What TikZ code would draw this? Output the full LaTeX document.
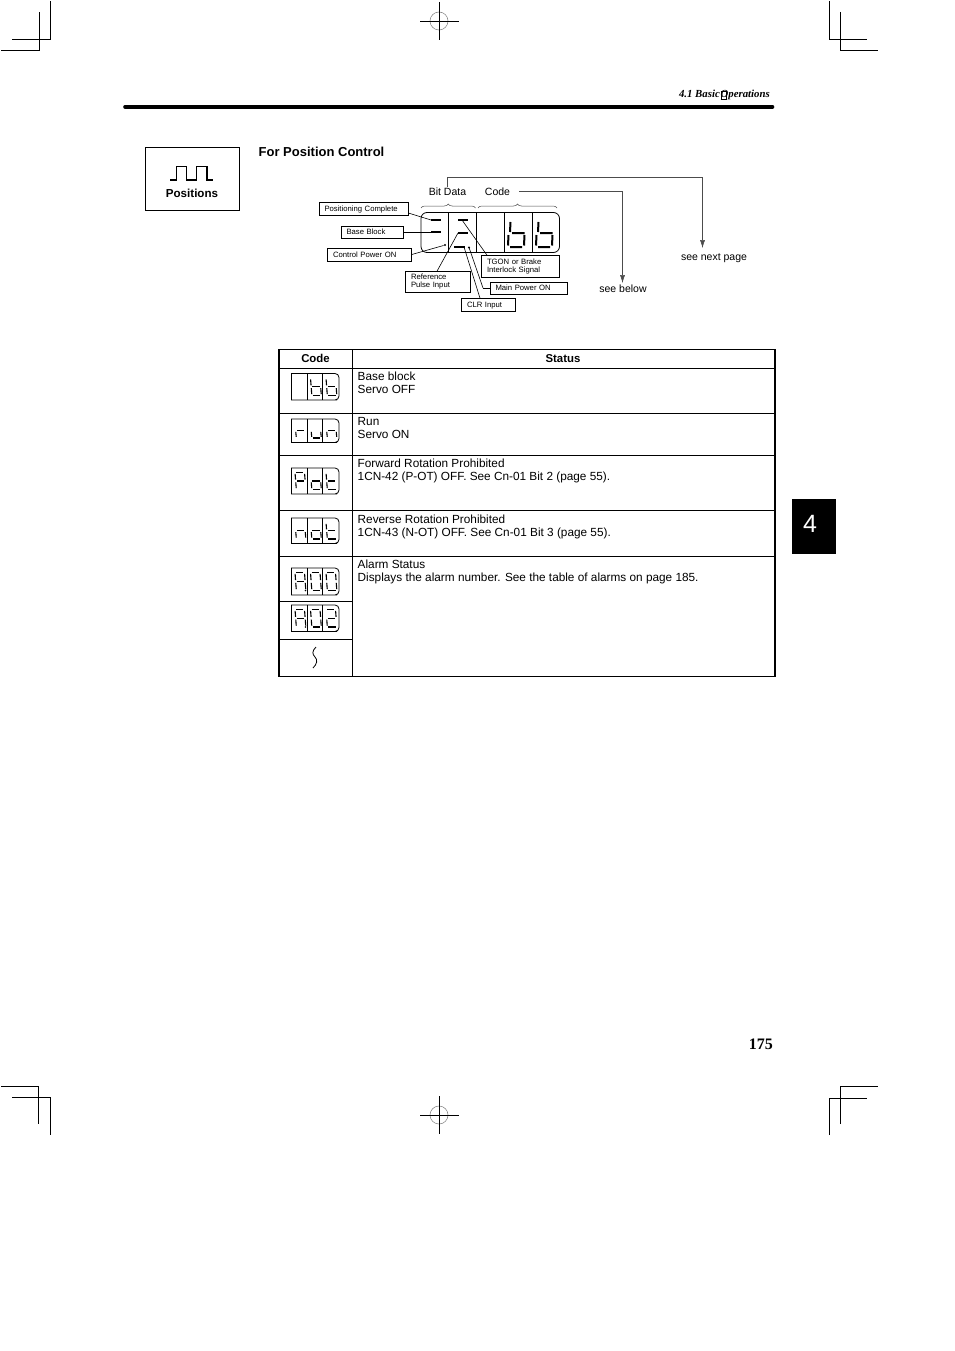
\documentclass[tikz,border=0pt]{standalone}
\usepackage{fontspec}
\setmainfont{Liberation Sans}
\newfontfamily\pageserif{Liberation Serif}
\usetikzlibrary{arrows.meta,positioning,decorations.pathreplacing}
\tikzset{>={Latex[width=5pt,length=8pt]}}
\tikzset{
	cropline/.style = {line width = 0.8pt},
	regcircle/.style = {line width = 0.6pt, black!45},
	rulebar/.style = {line width = 3.6pt, line cap = round},
	tablerule/.style = {line width = 0.7pt},
	tableframe/.style = {line width = 1.3pt},
	bodytext/.style = {inner sep = 0pt, align = left, anchor = north west, font = \fontsize{11.8}{12.8}\selectfont},
	headtext/.style = {inner sep = 0pt, font = \fontsize{11.4}{13}\selectfont\bfseries},
	smalltext/.style = {inner sep = 0pt, font = \fontsize{10.5}{12}\selectfont},
	labelbox/.style 2 args = {draw, line width = 0.6pt, align = left, inner xsep = 5.5pt, inner ysep = 0pt,
		text width = #1pt - 11pt, minimum height = #2pt, font = \fontsize{7.7}{8}\selectfont},
	oneline/.style = {text depth = 0pt},
	leader/.style = {line width = 0.5pt, black!70},
	pointer/.style = {line width = 0.6pt},
	segline/.style = {line width = 1.1pt},
	bigsegline/.style = {line width = 2pt},
	bitmark/.style = {line width = 2pt},
	dispframe/.style = {line width = 0.8pt},
}
\newcommand{\sega}{\draw[segline] (.12,0) -- (.88,0);}
\newcommand{\segb}{\draw[segline] (1,.08) -- (1,.42);}
\newcommand{\segc}{\draw[segline] (1,.58) -- (1,.92);}
\newcommand{\segd}{\draw[segline] (.12,1) -- (.88,1);}
\newcommand{\sege}{\draw[segline] (0,.58) -- (0,.92);}
\newcommand{\segf}{\draw[segline] (0,.08) -- (0,.42);}
\newcommand{\segg}{\draw[segline] (.12,.5) -- (.88,.5);}
\newcommand{\segdigit}[5]{
	\begin{scope}[shift = {(#1,#2)}, xscale = #3, yscale = #4, xslant = -0.14]
		\foreach \bar in {#5} {\csname seg\bar\endcsname}
	\end{scope}
}
\newcommand{\segrow}[5]{
	\draw[dispframe] (291.5,#1) -- (333,#1) [rounded corners = 4pt] -- (339,#1) -- (339,#2) -- (333,#2) [sharp corners] -- (291.5,#2) -- cycle;
	\draw[dispframe] (307.5,#1) -- (307.5,#2) (322.5,#1) -- (322.5,#2);
	\segdigit{295}{#1 + 4.5}{9.5}{#2 - #1 - 9}{#3}
	\segdigit{310.5}{#1 + 4.5}{9.5}{#2 - #1 - 9}{#4}
	\segdigit{326}{#1 + 4.5}{9.5}{#2 - #1 - 9}{#5}
}
\begin{document}
\begin{tikzpicture}[x = 1pt, y = -1pt]
	\useasboundingbox (0,0) rectangle (954,1351);

	\draw[cropline] (1,50) -| (39.5,12) (12,39.5) -| (50.5,1);
	\draw[cropline] (1,1086) -| (38.5,1124) (12,1097.5) -| (50.5,1135);
	\draw[cropline] (829.5,1) |- (867,39.5) (840.5,12) |- (878,50);
	\draw[cropline] (840.5,1124) |- (878,1086) (829.5,1135) |- (867,1098);
	\foreach \regy in {21,1115} {
		\draw[regcircle] (439,\regy) circle (9);
		\draw[cropline] (420,\regy) -- (458.5,\regy) (439,\regy - 19) -- (439,\regy + 19);
	}

	\draw[rulebar] (125,106.8) -- (772.5,106.8);
	\node (section) [inner sep = 0pt, anchor = east] at (770,95) {\pageserif\fontsize{10.8}{12}\selectfont\bfseries\itshape
		4.1 Basic\kern.8pt\rlap{\raisebox{-1pt}{\fboxsep=0pt\fboxrule=.25pt\fbox{\rule{0pt}{7.5pt}\hspace{5.5pt}}}}Operations};

	\node (posbox) [draw, line width = 0.7pt, minimum width = 94pt, minimum height = 63pt] at (192,179) {};
	\draw[line width = 1.3pt] (170,180) -- (176.7,180) -- (176.7,166.5) -- (186.7,166.5) -- (186.7,180) -- (196.7,180)
		-- (196.7,166.5) -- (207,166.5) -- (207,180) -- (213,180);
	\node (positions) [inner sep = 0pt, font = \fontsize{11.6}{13}\selectfont\bfseries] at (192,193.5) {Positions};
	\node (title) [inner sep = 0pt, anchor = west, font = \fontsize{13}{15}\selectfont\bfseries] at (258.5,151.5) {For Position Control};

	\node (bitdata) [smalltext] at (447.5,191.5) {Bit Data};
	\node (code) [smalltext] at (497.5,191.5) {Code};
	\node (seenext) [smalltext] at (714,258.5) {see next page};
	\node (seebelow) [smalltext] at (623,288.5) {see below};
	\coordinate (nextturn) at (702.5,177);
	\coordinate (nextend) at (702.5,248);
	\coordinate (belowend) at (622.5,283);
	\draw[leader, ->] (bitdata.north) |- (nextturn) -- (nextend);
	\draw[leader, ->] ([xshift = 9pt]code.east) -| (belowend);

	\draw[leader, decorate, decoration = {brace, amplitude = 4pt}] (421,208) -- (475.5,208);
	\draw[leader, decorate, decoration = {brace, amplitude = 4pt}] (478,208) -- (557,208);

	\draw[dispframe, rounded corners = 6pt] (421,212.5) rectangle (559.5,252.5);
	\draw[dispframe] (448,212.5) -- (448,252.5) (476,212.5) -- (476,252.5) (504,212.5) -- (504,252.5) (532,212.5) -- (532,252.5);
	\foreach \digx in {508,536} {
		\draw[bigsegline] (\digx + 2.5,222) -- (\digx + 2,232) (\digx + 4,233) -- (\digx + 16.5,233) (\digx + 16.5,235) -- (\digx + 16,245.5)
			(\digx + 2,247) -- (\digx + 14,247) (\digx + .5,235) -- (\digx,245.5);
	}
	\coordinate (poscmark) at (431,220);
	\coordinate (bbmark) at (431,232);
	\coordinate (ctrlmark) at (445,245);
	\coordinate (refmark) at (458,233);
	\coordinate (tgonmark) at (462,220);
	\coordinate (clrmark) at (464,247);
	\coordinate (mainmark) at (469,247.5);
	\draw[bitmark] (poscmark) -- ++(10,0) (bbmark) -- ++(10,0) (458,220) -- (468,220) (refmark) -- ++(10,0) (454,247) -- (465,247);
	\fill (ctrlmark) circle (1.2) (mainmark) circle (1.2);

	\node (posc) [labelbox = {89}{13}, oneline] at (363.5,209) {Positioning Complete};
	\node (bblock) [labelbox = {62}{12}, oneline] at (372,232) {Base Block};
	\node (ctrlpower) [labelbox = {84}{13}, oneline] at (369.5,254.5) {Control Power ON};
	\node (refpulse) [labelbox = {65}{21}] at (438,282) {Reference\\Pulse Input};
	\node (tgon) [labelbox = {78}{22}] at (520.5,266.5) {TGON or Brake\\Interlock Signal};
	\node (mainpower) [labelbox = {77}{12}, oneline] at (528.5,288) {Main Power ON};
	\node (clr) [labelbox = {54}{13}, oneline] at (488.5,305) {CLR Input};

	\path[pointer]
	([yshift = -4pt]posc.east) edge (poscmark)
	(bblock.east) edge (bbmark)
	(ctrlpower.east) edge ([xshift = -1.5pt, yshift = -.5pt]ctrlmark)
	([xshift = -1pt]refpulse.north) edge (refmark)
	(tgonmark) edge ([xshift = -33.5pt]tgon.north)
	(clrmark) edge ([xshift = -8.5pt]clr.north)
	(mainmark) edge (483,288)
	(483,288) edge (mainpower.west);

	\draw[tableframe] (279,349.5) rectangle (775,676.5);
	\draw[tableframe] (279,368.3) -- (775,368.3);
	\draw[tablerule] (352.5,349.5) -- (352.5,676.5);
	\draw[tablerule] (279,413.5) -- (775,413.5) (279,455.5) -- (775,455.5) (279,510.5) -- (775,510.5) (279,556.5) -- (775,556.5);
	\draw[tablerule] (279,601.5) -- (352.5,601.5) (279,639.5) -- (352.5,639.5);

	\node (codehead) [headtext] at (315.5,358.5) {Code};
	\node (statushead) [headtext] at (563,358.5) {Status};
	\node (status1) [bodytext] at (357.5,372) {Base block\\Servo OFF};
	\node (status2) [bodytext] at (357.5,417) {Run\\Servo ON};
	\node (status3) [bodytext] at (357.5,459) {Forward Rotation Prohibited\\1CN-42 (P-OT) OFF. See Cn-01 Bit 2 (page 55).};
	\node (status4) [bodytext] at (357.5,514.5) {Reverse Rotation Prohibited\\1CN-43 (N-OT) OFF. See Cn-01 Bit 3 (page 55).};
	\node (status5) [bodytext] at (357.5,560) {Alarm Status\\Displays the alarm number. See the table of alarms on page 185.};

	\segrow{373.5}{400}{}{f,g,c,d,e}{f,g,c,d,e}
	\segrow{419}{442.5}{e,g}{e,d,c}{e,g,c}
	\segrow{468}{494}{a,b,f,g,e}{g,c,d,e}{f,g,e,d}
	\segrow{518}{543.5}{e,g,c}{g,c,d,e}{f,g,e,d}
	\segrow{568}{595}{a,b,c,e,f,g}{a,b,c,d,e,f}{a,b,c,d,e,f}
	\segrow{605}{631.5}{a,b,c,e,f,g}{a,b,c,d,e,f}{a,b,g,e,d}
	\fill (305.5,590.5) circle (.8) (305.5,627) circle (.8);
	\draw[line width = 0.8pt] (316,647) .. controls (312,651) and (312,654) .. (315,657) .. controls (318,660) and (317,664) .. (313,668);

	\node (chaptertab) [fill = black, minimum width = 44pt, minimum height = 55pt, inner sep = 0pt] at (814,526.5) {};
	\node (chapternum) [white, inner sep = 0pt, font = \fontsize{25}{28}\selectfont] at (810,524) {4};
	\node (pagenum) [inner sep = 0pt, anchor = east] at (773,1044) {\pageserif\fontsize{16}{18}\selectfont\bfseries 175};
\end{tikzpicture}
\end{document}
